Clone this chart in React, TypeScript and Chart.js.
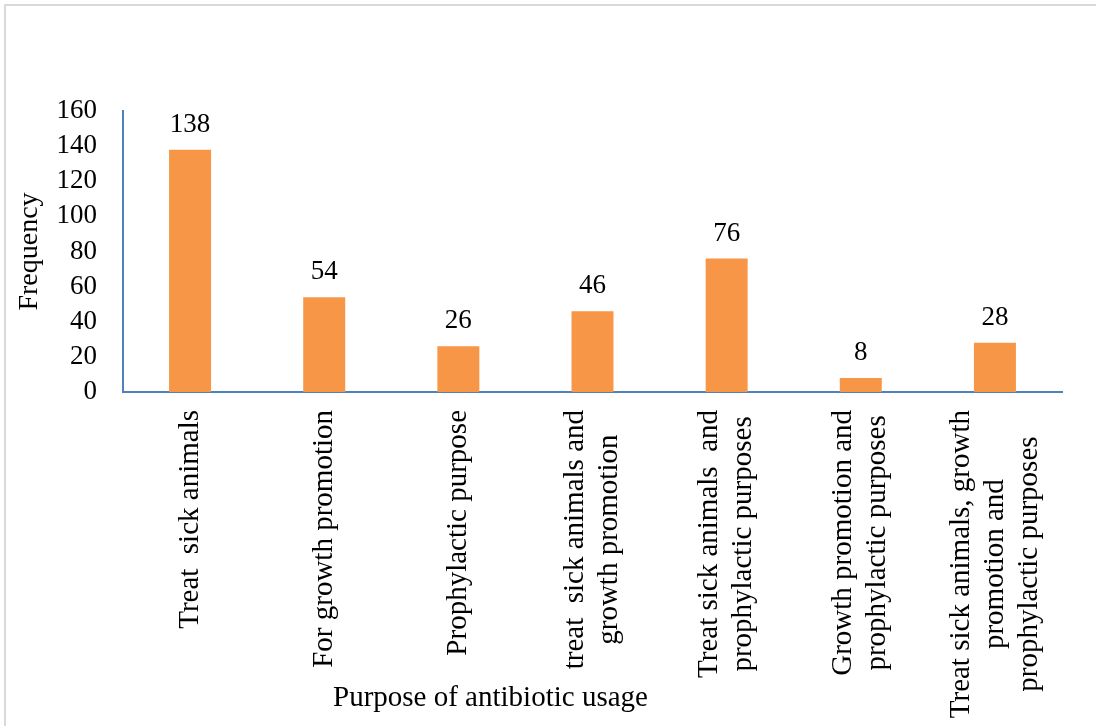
import React, { useEffect, useRef } from "react";
import { Chart, registerables } from "chart.js";

Chart.register(...registerables);

// Category labels, one string per line
const categories: string[][] = [
  ["Treat  sick animals"],
  ["For growth promotion"],
  ["Prophylactic purpose"],
  ["treat  sick animals and", "growth promotion"],
  ["Treat sick animals  and", "prophylactic purposes"],
  ["Growth promotion and", "prophylactic purposes"],
  ["Treat sick animals, growth", "promotion and", "prophylactic purposes"],
];
const frequency: number[] = [138, 54, 26, 46, 76, 8, 28];
const yTicks: number[] = [0, 20, 40, 60, 80, 100, 120, 140, 160];

const xTitle = "Purpose of antibiotic usage";
const yTitle = "Frequency";

const SERIF = "'Liberation Serif', 'Times New Roman', serif";
const BAR_COLOR = "#F79646";
const AXIS_COLOR = "#4F81BD";

// Frame, value labels, rotated category labels and x title
const decorations = {
  id: "decorations",
  beforeDraw(chart: any) {
    const { ctx, width, height } = chart;
    ctx.save();
    ctx.fillStyle = "#ffffff";
    ctx.fillRect(0, 0, width, height);
    ctx.strokeStyle = "#D9D9D9";
    ctx.lineWidth = 2;
    ctx.strokeRect(5, 5, width + 20, height + 20);
    ctx.restore();
  },
  afterDraw(chart: any) {
    const { ctx } = chart;
    const xScale = chart.scales.x;
    const yScale = chart.scales.y;
    const meta = chart.getDatasetMeta(0);
    ctx.save();

    // value labels above bars
    ctx.fillStyle = "#000000";
    ctx.font = `27px ${SERIF}`;
    ctx.textAlign = "center";
    ctx.textBaseline = "alphabetic";
    meta.data.forEach((bar: any, i: number) => {
      ctx.fillText(String(frequency[i]), bar.x, bar.y - 18);
    });

    // rotated category labels, lines centred on each other
    ctx.font = `29px ${SERIF}`;
    const lineGap = 34;
    const top = yScale.getPixelForValue(0) + 18;
    categories.forEach((lines, i) => {
      const cx = xScale.getPixelForTick(i);
      const maxW = Math.max(...lines.map((l) => ctx.measureText(l).width));
      const cy = top + maxW / 2;
      lines.forEach((line, j) => {
        const off = (j - (lines.length - 1) / 2) * lineGap;
        ctx.save();
        ctx.translate(cx + off, cy);
        ctx.rotate(-Math.PI / 2);
        ctx.textAlign = "center";
        ctx.textBaseline = "middle";
        ctx.fillText(line, 0, 0);
        ctx.restore();
      });
    });

    // x axis title
    ctx.font = `29px ${SERIF}`;
    ctx.textAlign = "left";
    ctx.textBaseline = "alphabetic";
    ctx.fillText(xTitle, 333, 706);
    ctx.restore();
  },
};

export default function App() {
  const canvasRef = useRef<HTMLCanvasElement | null>(null);

  useEffect(() => {
    if (!canvasRef.current) return;
    const chart = new Chart(canvasRef.current, {
      type: "bar",
      data: {
        labels: categories.map((c) => c.join(" ")),
        datasets: [
          {
            data: frequency,
            backgroundColor: BAR_COLOR,
            borderWidth: 0,
            categoryPercentage: 1,
            barPercentage: 0.313,
          },
        ],
      },
      options: {
        responsive: false,
        animation: false,
        layout: { padding: { top: 111, bottom: 334, left: 0, right: 34 } },
        plugins: {
          legend: { display: false },
          tooltip: { enabled: false },
        },
        scales: {
          x: {
            grid: { display: false, drawTicks: false },
            border: { display: true, color: AXIS_COLOR, width: 2 },
            ticks: { display: false },
            afterFit: (scale: any) => {
              scale.height = 0;
            },
          },
          y: {
            min: 0,
            max: 160,
            afterBuildTicks: (scale: any) => {
              scale.ticks = yTicks.map((v) => ({ value: v }));
            },
            grid: { display: false, drawTicks: false },
            border: { display: true, color: AXIS_COLOR, width: 2 },
            ticks: {
              autoSkip: false,
              padding: 26,
              color: "#000000",
              font: { family: SERIF, size: 27 },
            },
            title: {
              display: true,
              text: yTitle,
              color: "#000000",
              font: { family: SERIF, size: 28 },
              padding: { top: 13, bottom: 0 },
            },
            afterFit: (scale: any) => {
              scale.width = 123;
            },
          },
        },
      },
      plugins: [decorations],
    });
    return () => chart.destroy();
  }, []);

  return (
    <div style={{ position: "fixed", left: 0, top: 0, width: 1096, height: 726 }}>
      <canvas ref={canvasRef} width={1096} height={726} />
    </div>
  );
}
